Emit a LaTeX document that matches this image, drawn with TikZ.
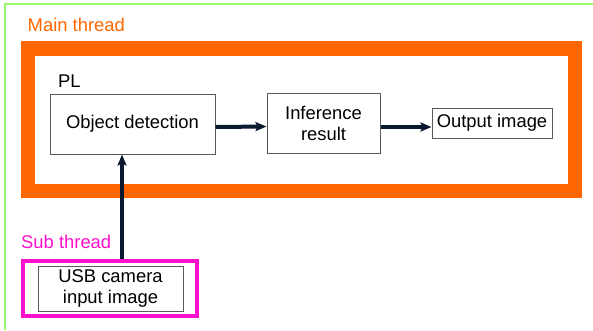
\documentclass[tikz,border=0pt]{standalone}
\usepackage{fontspec}
\setmainfont{Liberation Sans}
\usetikzlibrary{arrows.meta}
\definecolor{mainorange}{HTML}{FF6600}
\definecolor{submag}{HTML}{FF10CC}
\definecolor{framegreen}{HTML}{99F76A}
\definecolor{boxgray}{HTML}{5A5A5A}
\definecolor{arrownavy}{HTML}{0A1830}
\begin{document}
\begin{tikzpicture}[x=1pt,y=-1pt,
  every node/.style={font=\fontsize{18.4}{21}\selectfont},
  blockbox/.style={draw=boxgray, line width=1pt, fill=white, inner sep=0pt, align=center},
  lbl/.style={inner sep=0pt, anchor=west},
  flow/.style={draw=arrownavy, line width=4pt, -{Stealth[length=11pt,width=9pt,inset=2pt]}}]
\useasboundingbox (0,0) rectangle (593,330);
\fill[white] (0,0) rectangle (593,330);
% green outer frame (only top and left visible)
\draw[framegreen, line width=1.6pt] (593,4) -- (5,4) -- (5,330);
% labels
\node[lbl, text=mainorange] (mainlbl) at (27.5,25) {Main thread};
\node[lbl, text=submag] (sublbl) at (21,242) {Sub thread};
% orange frame
\node[draw=mainorange, line width=14.5pt, minimum width=547pt, minimum height=142.5pt, inner sep=0pt] (mainf) at (301.5,119.75) {};
\node[lbl] (pl) at (58,81) {PL};
% magenta frame
\node[draw=submag, line width=4pt, minimum width=174pt, minimum height=55pt, inner sep=0pt] (subf) at (110,288.5) {};
% blocks
\node[blockbox, minimum width=165pt, minimum height=60pt] (od) at (132.5,124) {Object detection};
\node[blockbox, minimum width=113pt, minimum height=60pt] (inf) at (323.5,123.5) {Inference\\result};
\node[blockbox, minimum width=120pt, minimum height=30pt] (out) at (492,123) {Output image};
\node[blockbox, minimum width=145pt, minimum height=45pt] (usb) at (110.5,288.5) {USB camera\\input image};
% arrows
\coordinate (ax) at (122,0);
\draw[flow] ([yshift=-3pt]od.east) -- ([yshift=-3pt]inf.west);
\draw[flow] ([yshift=-3.5pt]inf.east) -- ([yshift=-3.5pt]inf.east -| out.west);
\draw[flow] (ax |- subf.north) -- (ax |- od.south);
\end{tikzpicture}
\end{document}
